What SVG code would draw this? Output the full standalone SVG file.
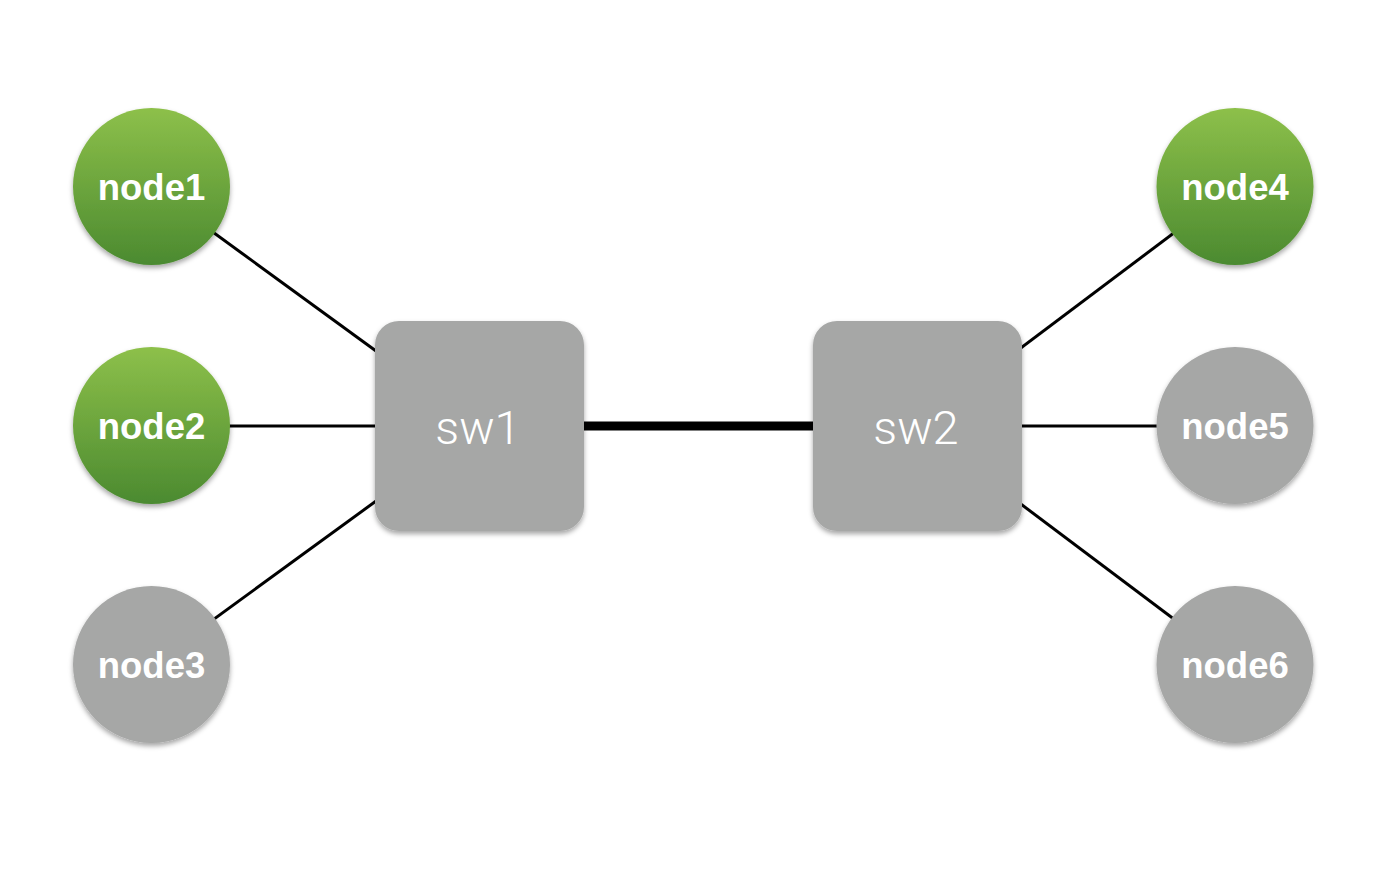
<svg xmlns="http://www.w3.org/2000/svg" width="1390" height="876" viewBox="0 0 1390 876">
<defs>
<linearGradient id="green" x1="0" y1="0" x2="0" y2="1">
<stop offset="0" stop-color="#8dc04a"/>
<stop offset="1" stop-color="#4b8a30"/>
</linearGradient>
<filter id="sh" x="-20%" y="-20%" width="140%" height="150%">
<feDropShadow dx="0" dy="3" stdDeviation="2.5" flood-color="#000" flood-opacity="0.35"/>
</filter>
<style>
.link{stroke:#000;stroke-width:3;fill:none}
.trunk{stroke:#000;stroke-width:9;fill:none}
.g{fill:url(#green)}
.gray{fill:#a6a7a6}
.nl{font-family:"Liberation Sans",Arial,sans-serif;font-weight:bold;font-size:36.5px;fill:#fff;text-anchor:middle}
.sl{font-family:Roboto,"Liberation Sans",sans-serif;font-weight:300;font-size:47px;fill:#fff;text-anchor:middle}
</style>
</defs>
<rect width="1390" height="876" fill="#fff"/>
<g id="connectors">
<line class="link" x1="151" y1="187" x2="479" y2="426"/>
<line class="link" x1="151" y1="426" x2="479" y2="426"/>
<line class="link" x1="151" y1="665" x2="479" y2="426"/>
<line class="trunk" x1="479" y1="426" x2="917" y2="426"/>
<line class="link" x1="1235" y1="187" x2="917" y2="426"/>
<line class="link" x1="1235" y1="426" x2="917" y2="426"/>
<line class="link" x1="1235" y1="665" x2="917" y2="426"/>
</g>
<g id="sw1"><rect class="gray" x="375" y="321" width="209" height="210" rx="24" filter="url(#sh)"/><text class="sl" x="478" y="444">sw1</text></g>
<g id="sw2"><rect class="gray" x="813" y="321" width="209" height="210" rx="24" filter="url(#sh)"/><text class="sl" x="916" y="444">sw2</text></g>
<g id="node1"><circle class="g" cx="151.5" cy="186.5" r="78.5" filter="url(#sh)"/><text class="nl" x="151.5" y="200">node1</text></g>
<g id="node2"><circle class="g" cx="151.5" cy="425.5" r="78.5" filter="url(#sh)"/><text class="nl" x="151.5" y="439">node2</text></g>
<g id="node3"><circle class="gray" cx="151.5" cy="664.5" r="78.5" filter="url(#sh)"/><text class="nl" x="151.5" y="678">node3</text></g>
<g id="node4"><circle class="g" cx="1235" cy="186.5" r="78.5" filter="url(#sh)"/><text class="nl" x="1235" y="200">node4</text></g>
<g id="node5"><circle class="gray" cx="1235" cy="425.5" r="78.5" filter="url(#sh)"/><text class="nl" x="1235" y="439">node5</text></g>
<g id="node6"><circle class="gray" cx="1235" cy="664.5" r="78.5" filter="url(#sh)"/><text class="nl" x="1235" y="678">node6</text></g>
</svg>
